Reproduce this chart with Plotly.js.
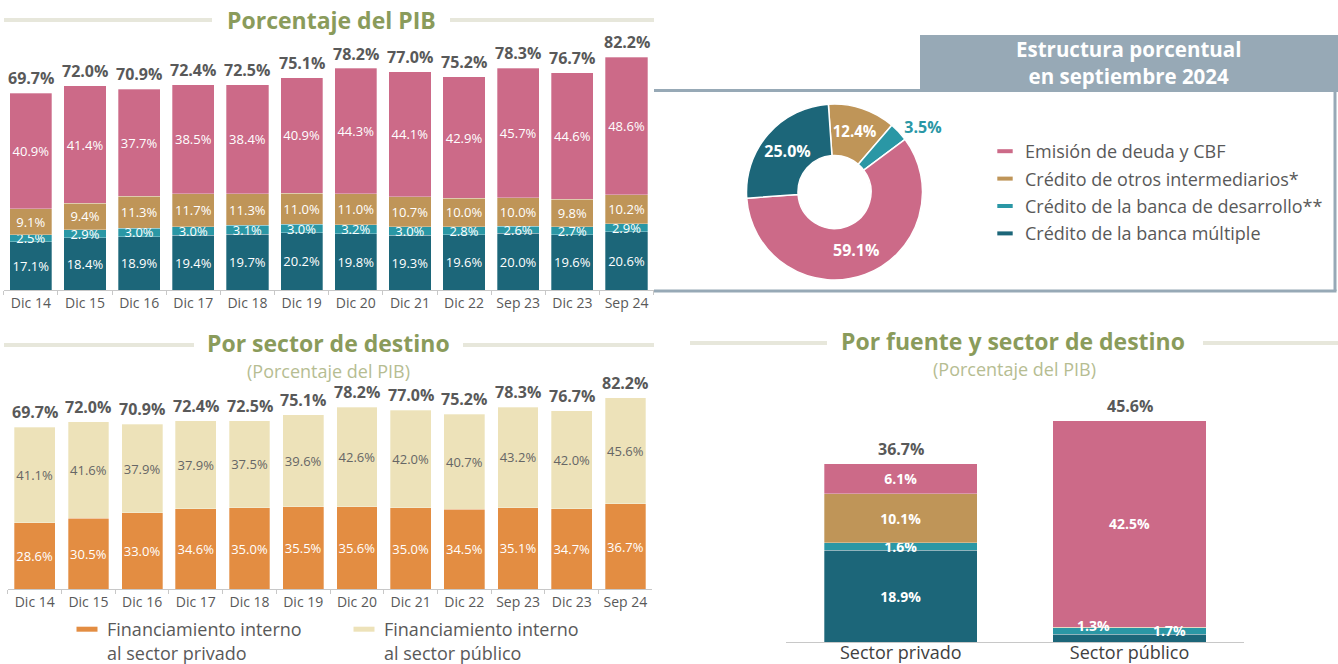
<!DOCTYPE html>
<html><head><meta charset="utf-8">
<script src="https://cdn.plot.ly/plotly-3.0.1.min.js"></script>
<style>
html,body{margin:0;padding:0;background:#fff;width:1338px;height:664px;overflow:hidden;}
#chart{position:absolute;left:0;top:0;width:1338px;height:664px;}
</style>
</head>
<body>
<div id="chart"></div>
<script>
// ---------- DATA ----------
const periods = ['Dic 14','Dic 15','Dic 16','Dic 17','Dic 18','Dic 19','Dic 20','Dic 21','Dic 22','Sep 23','Dic 23','Sep 24'];
const totalPIB = [69.7,72.0,70.9,72.4,72.5,75.1,78.2,77.0,75.2,78.3,76.7,82.2];
const bancaMultiple = [17.1,18.4,18.9,19.4,19.7,20.2,19.8,19.3,19.6,20.0,19.6,20.6];
const bancaDesarrollo = [2.5,2.9,3.0,3.0,3.1,3.0,3.2,3.0,2.8,2.6,2.7,2.9];
const otrosIntermediarios = [9.1,9.4,11.3,11.7,11.3,11.0,11.0,10.7,10.0,10.0,9.8,10.2];
const emisionDeuda = [40.9,41.4,37.7,38.5,38.4,40.9,44.3,44.1,42.9,45.7,44.6,48.6];

const sectorPrivado = [28.6,30.5,33.0,34.6,35.0,35.5,35.6,35.0,34.5,35.1,34.7,36.7];
const sectorPublico = [41.1,41.6,37.9,37.9,37.5,39.6,42.6,42.0,40.7,43.2,42.0,45.6];

const pieLabels = ['Crédito de otros intermediarios*','Crédito de la banca de desarrollo**','Emisión de deuda y CBF','Crédito de la banca múltiple'];
const pieValues = [12.4, 3.5, 59.1, 25.0];

const sectores = ['Sector privado','Sector público'];
const sectorTotales = [36.7, 45.6];
const fuenteMultiple = [18.9, 1.7];
const fuenteDesarrollo = [1.6, 1.3];
const fuenteOtros = [10.1, 0.1];
const fuenteEmision = [6.1, 42.5];

const serieNames = ['Emisión de deuda y CBF','Crédito de otros intermediarios*','Crédito de la banca de desarrollo**','Crédito de la banca múltiple'];
const destinoNames = ['Financiamiento interno<br>al sector privado','Financiamiento interno<br>al sector público'];

// ---------- STYLE ----------
const C = {
  multiple:'#1C6679', desarrollo:'#2A97A5', otros:'#BF9558', emision:'#CC6A88',
  privado:'#E38D42', publico:'#EDE2B9', olive:'#8A9B5B', oliveLight:'#B6BD92',
  rule:'#E7E7DB', frame:'#97A9B6', text:'#595959', axis:'#C8C8C8'
};
const FONT = 'Open Sans, sans-serif';
const W = 1338, H = 664;
const px = v => v / W;
const py = v => 1 - v / H;
const pct = v => v.toFixed(1) + '%';

function stackBar(x, y, color, xa, ya, width, txtColor, txtSize, bold, texts) {
  return {
    type:'bar', x:x, y:y, xaxis:xa, yaxis:ya, width:width,
    marker:{color:color, line:{color:'rgba(255,255,255,0.6)', width:0.5}},
    text: texts || y.map(pct), textposition:'inside', insidetextanchor:'middle',
    constraintext:'none', textangle:0,
    textfont:{family:FONT, size:txtSize, color:txtColor, weight: bold ? 700 : 400},
    hoverinfo:'skip', showlegend:false, cliponaxis:false
  };
}

const traces = [];
// Porcentaje del PIB (stacked by source)
traces.push(stackBar(periods, bancaMultiple, C.multiple, 'x', 'y', 0.78, '#fff', 13));
traces.push(stackBar(periods, bancaDesarrollo, C.desarrollo, 'x', 'y', 0.78, '#fff', 13));
traces.push(stackBar(periods, otrosIntermediarios, C.otros, 'x', 'y', 0.78, '#fff', 13));
traces.push(stackBar(periods, emisionDeuda, C.emision, 'x', 'y', 0.78, '#fff', 13));
// Por sector de destino
traces.push(stackBar(periods, sectorPrivado, C.privado, 'x2', 'y2', 0.76, '#fff', 13));
traces.push(stackBar(periods, sectorPublico, C.publico, 'x2', 'y2', 0.76, '#666666', 13));
// Por fuente y sector de destino
traces.push(stackBar(sectores, fuenteMultiple, C.multiple, 'x3', 'y3', 0.67, '#fff', 14, true, fuenteMultiple.map((v,i)=> i===0 ? pct(v) : '')));
traces.push(stackBar(sectores, fuenteDesarrollo, C.desarrollo, 'x3', 'y3', 0.67, '#fff', 14, true, fuenteDesarrollo.map((v,i)=> i===0 ? pct(v) : '')));
traces.push(stackBar(sectores, fuenteOtros, C.otros, 'x3', 'y3', 0.67, '#fff', 14, true, fuenteOtros.map((v,i)=> i===0 ? pct(v) : '')));
traces.push(stackBar(sectores, fuenteEmision, C.emision, 'x3', 'y3', 0.67, '#fff', 14, true));

// Estructura porcentual (donut)
traces.push({
  type:'pie', labels:pieLabels, values:pieValues, sort:false, direction:'clockwise', rotation:-4,
  hole:0.415, domain:{x:[px(746.5), px(922.5)], y:[py(280), py(104)]},
  marker:{colors:[C.otros, C.desarrollo, C.emision, C.multiple], line:{color:'#fff', width:1.5}},
  texttemplate:'%{value:.1f}%', textposition:['inside','outside','inside','inside'],
  insidetextorientation:'horizontal',
  insidetextfont:{family:FONT, size:16, color:'#fff', weight:700},
  outsidetextfont:{family:FONT, size:16, color:C.desarrollo, weight:700},
  showlegend:false, hoverinfo:'skip'
});

// Legend keys
const legendColors = [C.emision, C.otros, C.desarrollo, C.multiple];
serieNames.forEach((n, i) => traces.push({
  type:'scatter', mode:'markers', x:[null], y:[null], xaxis:'x', yaxis:'y', name:n,
  legend:'legend', legendgroup:'g'+i,
  marker:{symbol:'line-ew', size:11, color:legendColors[i], line:{color:legendColors[i], width:4}},
  hoverinfo:'skip'
}));
const destColors = [C.privado, C.publico];
destinoNames.forEach((n, i) => traces.push({
  type:'scatter', mode:'markers', x:[null], y:[null], xaxis:'x2', yaxis:'y2', name:n,
  legend:'legend2',
  marker:{symbol:'line-ew', size:15, color:destColors[i], line:{color:destColors[i], width:5}},
  hoverinfo:'skip'
}));

// ---------- ANNOTATIONS ----------
const ann = [];
function totalsAnn(cats, vals, xa, ya, size) {
  cats.forEach((c, i) => ann.push({
    x:c, y:vals[i], xref:xa, yref:ya, text:pct(vals[i]), showarrow:false,
    yanchor:'bottom', yshift:2, font:{family:FONT, size:size, color:C.text, weight:700}
  }));
}
totalsAnn(periods, totalPIB, 'x', 'y', 16);
totalsAnn(periods, totalPIB, 'x2', 'y2', 16);
totalsAnn(sectores, sectorTotales, 'x3', 'y3', 16);
ann.push({x:sectores[1], y:fuenteMultiple[1] + fuenteDesarrollo[1]/2, xref:'x3', yref:'y3', text:pct(fuenteDesarrollo[1]),
  showarrow:false, xshift:-36, yshift:5, font:{family:FONT, size:14, color:'#fff', weight:700}});
ann.push({x:sectores[1], y:fuenteMultiple[1]/2, xref:'x3', yref:'y3', text:pct(fuenteMultiple[1]),
  showarrow:false, xshift:40, yshift:8, height:16, font:{family:FONT, size:14, color:'#fff', weight:700}});

function title(text, x, y, size, color, bold, h) {
  const a = {xref:'paper', yref:'paper', x:px(x), y:py(y), text:text, showarrow:false,
    xanchor:'center', yanchor:'middle', font:{family:FONT, size:size, color:color, weight: bold ? 700 : 400}};
  if (h) a.height = h;
  ann.push(a);
}
title('Porcentaje del PIB', 331, 20, 23, C.olive, true);
title('Por sector de destino', 328, 343, 23, C.olive, true);
title('(Porcentaje del PIB)', 328, 371, 18, C.oliveLight, false);
title('Por fuente y sector de destino', 1013.5, 341, 23, C.olive, true);
title('(Porcentaje del PIB)', 1014, 369, 18, C.oliveLight, false);
title('Estructura porcentual<br>en septiembre 2024', 1128, 63, 20.5, '#ffffff', true);

// ---------- SHAPES ----------
const shapes = [];
function hline(x0, x1, y, color, w) {
  shapes.push({type:'line', xref:'paper', yref:'paper', x0:px(x0), x1:px(x1), y0:py(y), y1:py(y), line:{color:color, width:w}});
}
hline(4, 212, 20, C.rule, 4);   hline(450, 654, 20, C.rule, 4);
hline(4, 194, 345, C.rule, 4);  hline(463, 654, 345, C.rule, 4);
hline(690, 827, 343, C.rule, 4); hline(1203, 1338, 343, C.rule, 4);
shapes.push({type:'rect', xref:'paper', yref:'paper', x0:px(920), x1:px(1338), y0:py(90), y1:py(35), fillcolor:C.frame, line:{width:0}, layer:'below'});
hline(654, 1338, 90.5, C.frame, 3);
hline(654, 1336.5, 291, C.frame, 3);
shapes.push({type:'line', xref:'paper', yref:'paper', x0:px(1335), x1:px(1335), y0:py(90), y1:py(291), line:{color:C.frame, width:3}});

// ---------- LAYOUT ----------
function xax(domain) {
  return {domain:domain, type:'category', showline:true, linecolor:C.axis, linewidth:1,
    ticks:'outside', tickson:'boundaries', ticklen:4, tickcolor:C.axis, showgrid:false, zeroline:false,
    ticklabelstandoff:0,
    tickfont:{family:FONT, size:14, color:C.text}, fixedrange:true};
}
function yax(domain, range) {
  return {domain:domain, range:range, visible:false, showgrid:false, zeroline:false, fixedrange:true};
}
const xa3 = xax([px(786.3), px(1244)]);
xa3.ticks = ''; xa3.ticklabelstandoff = -6; xa3.tickfont = {family:FONT, size:18, color:'#404040'};

const layout = {
  width:W, height:H, autosize:false, margin:{l:0, r:0, t:0, b:0, pad:0, autoexpand:false},
  paper_bgcolor:'#fff', plot_bgcolor:'rgba(0,0,0,0)',
  barmode:'stack', font:{family:FONT, color:C.text},
  xaxis: xax([px(3.8), px(653.6)]), yaxis: yax([py(290), py(41)], [0, 88]),
  xaxis2: Object.assign(xax([px(7.85), px(652.3)]), {anchor:'y2'}), yaxis2: Object.assign(yax([py(589.3), py(384.7)], [0, 88]), {anchor:'x2'}),
  xaxis3: Object.assign(xa3, {anchor:'y3'}), yaxis3: Object.assign(yax([py(642.3), py(399.3)], [0, 50]), {anchor:'x3'}),
  legend:{x:px(985), y:py(133), xanchor:'left', yanchor:'top', orientation:'v', traceorder:'grouped', tracegroupgap:1,
    bgcolor:'rgba(0,0,0,0)', font:{family:FONT, size:18, color:C.text}, itemclick:false, itemdoubleclick:false},
  legend2:{x:px(67), y:py(611), xanchor:'left', yanchor:'top', orientation:'h', valign:'top',
    entrywidth:232, entrywidthmode:'pixels',
    bgcolor:'rgba(0,0,0,0)', font:{family:FONT, size:18, color:C.text}, itemclick:false, itemdoubleclick:false},
  annotations:ann, shapes:shapes, showlegend:true, hovermode:false
};

Plotly.newPlot('chart', traces, layout, {displayModeBar:false, staticPlot:true});
</script>
</body></html>
